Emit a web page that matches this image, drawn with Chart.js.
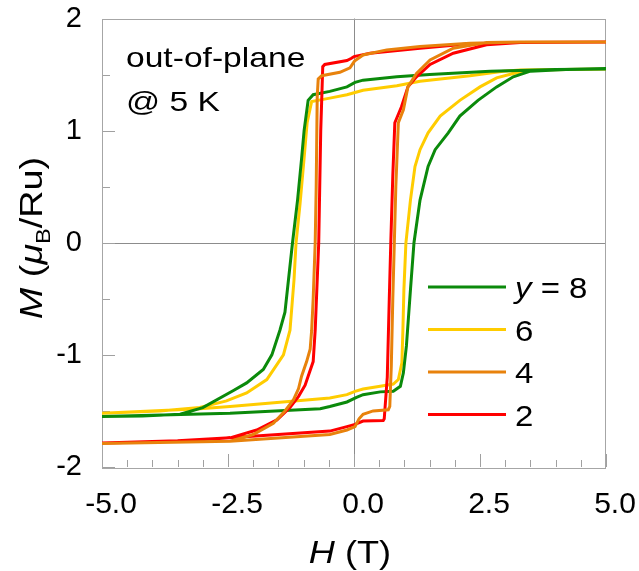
<!DOCTYPE html>
<html>
<head>
<meta charset="utf-8">
<script src="https://cdn.jsdelivr.net/npm/chart.js@4.4.1/dist/chart.umd.min.js"></script>
<style>
    html, body { margin: 0; padding: 0; background: #fff; }
    #wrap { width: 639px; height: 571px; }
</style>
</head>
<body>
<div id="wrap"><canvas id="loopChart" width="639" height="571"></canvas></div>
<script>
// composition y of each loop, legend order
var sweepLabels = ['8', '6', '4', '2'];
var sweepColors = ['#0b8a0b', '#ffcc00', '#e8820c', '#ff0000'];

// each loop: sweep down from +5 T to -5 T, then back up to +5 T
var fieldY8 = [5, 4.0, 2.7, 1.5, 0.85, 0.18, 0.02, -0.14, -0.48, -0.81, -0.91, -0.99, -1.04, -1.12, -1.22, -1.30, -1.37, -1.47, -1.63, -1.80, -2.13, -2.40, -3.00, -3.45, -4.2, -5,
    -2.46, -0.67, -0.48, -0.14, 0.05, 0.18, 0.52, 0.78, 0.92, 0.98, 1.04, 1.12, 1.19, 1.31, 1.47, 1.61, 1.87, 2.10, 2.46, 2.83, 3.16, 3.50, 4.2, 5];
var momentY8 = [1.55, 1.545, 1.53, 1.50, 1.48, 1.45, 1.43, 1.39, 1.35, 1.32, 1.27, 1.00, 0.75, 0.38, 0, -0.33, -0.62, -0.78, -1.00, -1.13, -1.25, -1.32, -1.47, -1.53, -1.545, -1.55,
    -1.52, -1.48, -1.46, -1.42, -1.38, -1.355, -1.33, -1.325, -1.28, -1.16, -0.92, -0.42, 0, 0.38, 0.68, 0.83, 0.98, 1.13, 1.27, 1.39, 1.48, 1.53, 1.545, 1.55];

var fieldY6 = [5, 3.3, 2.96, 2.3, 1.31, 0.85, 0.18, 0.02, -0.14, -0.48, -0.84, -0.93, -0.99, -1.07, -1.15, -1.19, -1.27, -1.40, -1.73, -2.13, -2.53, -3.06, -3.85, -5,
    -3.06, -2.46, -0.48, -0.14, 0.02, 0.18, 0.52, 0.78, 0.88, 0.95, 0.97, 0.99, 1.03, 1.12, 1.21, 1.31, 1.47, 1.71, 2.10, 2.50, 2.83, 3.16, 3.50, 5];
var momentY6 = [1.55, 1.54, 1.53, 1.49, 1.44, 1.40, 1.36, 1.34, 1.32, 1.29, 1.26, 1.07, 0.755, 0.35, 0, -0.33, -0.78, -1.00, -1.22, -1.34, -1.41, -1.47, -1.50, -1.52,
    -1.48, -1.46, -1.385, -1.355, -1.325, -1.305, -1.28, -1.26, -1.22, -1.07, -0.78, -0.42, 0, 0.38, 0.68, 0.83, 0.98, 1.13, 1.27, 1.39, 1.47, 1.51, 1.54, 1.55];

var fieldY4 = [5, 3.3, 2.3, 1.31, 0.65, 0.18, 0.01, -0.08, -0.28, -0.64, -0.71, -0.73, -0.75, -0.77, -0.81, -0.84, -0.87, -0.94, -1.04, -1.10, -1.20, -1.37, -1.60, -2.00, -2.46, -3.06, -5,
    -2.46, -0.48, -0.14, 0.02, 0.10, 0.18, 0.38, 0.68, 0.71, 0.74, 0.77, 0.80, 0.83, 0.88, 0.98, 1.07, 1.24, 1.51, 1.97, 2.63, 3.3, 5];
var momentY4 = [1.79, 1.79, 1.78, 1.75, 1.72, 1.675, 1.62, 1.56, 1.52, 1.49, 1.46, 1.30, 0.5, 0, -0.5, -0.78, -0.95, -1.06, -1.19, -1.30, -1.40, -1.50, -1.61, -1.71, -1.77, -1.775, -1.79,
    -1.77, -1.71, -1.67, -1.64, -1.57, -1.53, -1.50, -1.49, -1.46, -1.10, -0.5, 0, 0.5, 1.07, 1.185, 1.39, 1.51, 1.63, 1.735, 1.785, 1.79, 1.79];

var fieldY2 = [5, 3.3, 2.3, 1.31, 0.32, 0.0, -0.05, -0.14, -0.58, -0.62, -0.66, -0.70, -0.77, -0.81, -0.91, -0.97, -1.10, -1.27, -1.53, -1.93, -2.46, -3.5, -5,
    -3.5, -2.46, -0.48, -0.14, 0.02, 0.18, 0.58, 0.60, 0.66, 0.70, 0.73, 0.77, 0.81, 0.94, 1.07, 1.24, 1.51, 1.97, 2.63, 3.3, 5];
var momentY2 = [1.79, 1.785, 1.775, 1.735, 1.69, 1.66, 1.645, 1.625, 1.59, 1.57, 1.0, 0, -0.78, -1.06, -1.19, -1.27, -1.37, -1.47, -1.58, -1.67, -1.74, -1.77, -1.785,
    -1.765, -1.74, -1.68, -1.64, -1.62, -1.59, -1.585, -1.57, -1.2, -0.5, 0, 0.6, 1.07, 1.21, 1.39, 1.48, 1.59, 1.69, 1.765, 1.785, 1.79];

var fieldTicks = [-5, -2.5, 0, 2.5, 5];
var momentTicks = [-2, -1, 0, 1, 2];

var sweepFields = [fieldY8, fieldY6, fieldY4, fieldY2];
var sweepMoments = [momentY8, momentY6, momentY4, momentY2];
var drawOrder = [2, 3, 0, 1];

var FONT = "'Liberation Sans', Arial, Helvetica, sans-serif";

function toPoints(hs, ms) {
    return hs.map(function (h, i) {
        return { x: h, y: ms[i] };
    });
}

// draws text stretched along its run, from a list of pieces
function drawRun(ctx, pieces, x, y, stretch, align) {
    var total = 0;
    pieces.forEach(function (p) {
        ctx.font = p.font;
        p.w = ctx.measureText(p.text).width;
        total += p.w;
    });
    ctx.save();
    ctx.translate(x, y);
    ctx.scale(stretch, 1);
    var cx = align === 'center' ? -total / 2 : 0;
    pieces.forEach(function (p) {
        ctx.font = p.font;
        ctx.fillText(p.text, cx, p.dy || 0);
        cx += p.w;
    });
    ctx.restore();
}

var framePlugin = {
    id: 'frame',
    beforeDatasetsDraw: function (chart) {
        var ctx = chart.ctx;
        var a = chart.chartArea;
        var xs = chart.scales.x;
        var ys = chart.scales.y;
        ctx.save();
        ctx.lineWidth = 1;

        // zero lines
        ctx.strokeStyle = '#8c8c8c';
        ctx.beginPath();
        var x0 = Math.round(xs.getPixelForValue(0)) + 0.5;
        var y0 = Math.round(ys.getPixelForValue(0)) + 0.5;
        ctx.moveTo(x0, a.top);
        ctx.lineTo(x0, a.bottom);
        ctx.moveTo(a.left, y0);
        ctx.lineTo(a.right, y0);
        ctx.stroke();

        // inward ticks, minor every half unit
        ctx.strokeStyle = '#a0a0a0';
        ctx.beginPath();
        for (var h = xs.min; h <= xs.max + 1e-9; h += 0.5) {
            var px = Math.round(xs.getPixelForValue(h)) + 0.5;
            var major = Math.abs(h / 2.5 - Math.round(h / 2.5)) < 1e-6;
            ctx.moveTo(px, a.bottom);
            ctx.lineTo(px, a.bottom - (major ? 13 : 7));
        }
        for (var m = ys.min; m <= ys.max + 1e-9; m += 0.5) {
            var py = Math.round(ys.getPixelForValue(m)) + 0.5;
            var majorY = Math.abs(m - Math.round(m)) < 1e-6;
            ctx.moveTo(a.left, py);
            ctx.lineTo(a.left + (majorY ? 13 : 8), py);
        }
        ctx.stroke();

        ctx.strokeStyle = '#a6a6a6';
        ctx.strokeRect(Math.round(a.left) + 0.5, Math.round(a.top) + 0.5,
            Math.round(a.right - a.left) - 1, Math.round(a.bottom - a.top));
        ctx.restore();
    }
};

var textPlugin = {
    id: 'texts',
    afterDraw: function (chart) {
        var ctx = chart.ctx;
        ctx.save();
        ctx.fillStyle = '#000';
        ctx.textBaseline = 'alphabetic';
        ctx.textAlign = 'left';

        // condition note
        drawRun(ctx, [{ text: 'out-of-plane', font: '28px ' + FONT }], 126, 67, 1.2, 'left');
        drawRun(ctx, [{ text: '@ 5 K', font: '28px ' + FONT }], 126, 111, 1.2, 'left');

        // legend from the datasets
        var ly = 287;
        chart.data.datasets.forEach(function (ds, i) {
            ctx.strokeStyle = ds.borderColor;
            ctx.lineWidth = 3;
            ctx.beginPath();
            ctx.moveTo(428, ly);
            ctx.lineTo(506, ly);
            ctx.stroke();
            var pieces = i === 0
                ? [{ text: 'y', font: 'italic 30px ' + FONT }, { text: ' = ' + ds.label, font: '30px ' + FONT }]
                : [{ text: ds.label, font: '30px ' + FONT }];
            drawRun(ctx, pieces, 515, ly + 11, 1.1, 'left');
            ly += 42.5;
        });

        // axis titles
        var a = chart.chartArea;
        var xc = (a.left + a.right) / 2;
        drawRun(ctx, [
            { text: 'H', font: 'italic 32px ' + FONT },
            { text: ' (T)', font: '32px ' + FONT }
        ], xc - 4, 563, 1.13, 'center');

        ctx.save();
        ctx.translate(42, 238);
        ctx.rotate(-Math.PI / 2);
        drawRun(ctx, [
            { text: 'M', font: 'italic 32px ' + FONT },
            { text: ' (', font: '32px ' + FONT },
            { text: '\u03bc', font: 'italic 32px ' + FONT },
            { text: 'B', font: '20px ' + FONT, dy: 8 },
            { text: '/Ru)', font: '32px ' + FONT }
        ], 0, 0, 1.18, 'center');
        ctx.restore();

        ctx.restore();
    }
};

var datasets = sweepLabels.map(function (lab, i) {
    return {
        label: lab,
        data: toPoints(sweepFields[i], sweepMoments[i]),
        borderColor: sweepColors[i],
        backgroundColor: sweepColors[i],
        showLine: true,
        borderWidth: 3,
        pointRadius: 0,
        tension: 0,
        order: drawOrder[i]
    };
});

new Chart(document.getElementById('loopChart'), {
    type: 'scatter',
    data: { datasets: datasets },
    options: {
        responsive: false,
        devicePixelRatio: 1,
        animation: false,
        layout: { padding: { top: 18.5, right: 33, left: 0, bottom: 0 } },
        plugins: {
            legend: { display: false },
            tooltip: { enabled: false }
        },
        scales: {
            x: {
                type: 'linear',
                min: fieldTicks[0],
                max: fieldTicks[fieldTicks.length - 1],
                grid: { display: false, drawTicks: false },
                border: { display: false },
                afterBuildTicks: function (scale) {
                    scale.ticks = fieldTicks.map(function (v) { return { value: v }; });
                },
                afterFit: function (scale) {
                    scale.height = 104;
                    scale.paddingLeft = 0;
                    scale.paddingRight = 0;
                },
                ticks: {
                    callback: function (v) { return Number(v).toFixed(1); },
                    font: { family: FONT, size: 30 },
                    color: '#000',
                    padding: 20,
                    labelOffset: 9,
                    maxRotation: 0,
                    autoSkip: false
                }
            },
            y: {
                type: 'linear',
                min: momentTicks[0],
                max: momentTicks[momentTicks.length - 1],
                grid: { display: false, drawTicks: false },
                border: { display: false },
                afterBuildTicks: function (scale) {
                    scale.ticks = momentTicks.map(function (v) { return { value: v }; });
                },
                afterFit: function (scale) {
                    scale.width = 102;
                    scale.paddingTop = 0;
                    scale.paddingBottom = 0;
                },
                ticks: {
                    font: { family: FONT, size: 29 },
                    color: '#000',
                    padding: 20
                }
            }
        }
    },
    plugins: [framePlugin, textPlugin]
});
</script>
</body>
</html>
